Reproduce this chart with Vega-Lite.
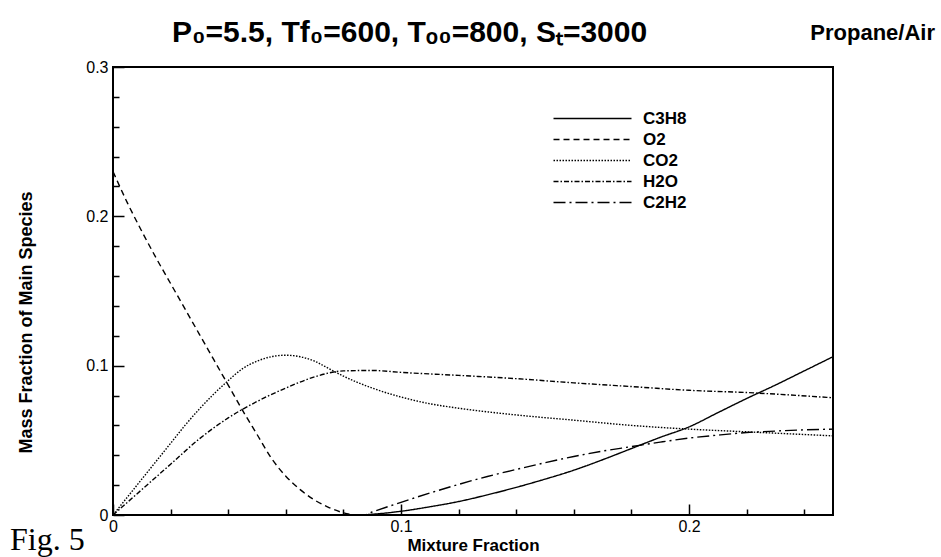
{
  "$schema": "https://vega.github.io/schema/vega-lite/v6.json",
  "width": 720,
  "height": 448,
  "autosize": {"type": "none"},
  "padding": {"top": 67, "left": 113, "right": 108, "bottom": 42},
  "background": "white",
  "config": {
    "view": {"stroke": "black", "strokeWidth": 2},
    "axis": {
      "domain": false,
      "grid": false,
      "labelFont": "Liberation Sans",
      "labelFontSize": 16,
      "labelColor": "black",
      "tickColor": "black",
      "tickWidth": 1.5,
      "titleFont": "Liberation Sans",
      "titleFontWeight": "bold",
      "titleColor": "black",
      "labelFlush": false,
      "labelOverlap": false
    }
  },
  "resolve": {"scale": {"x": "shared", "y": "shared"}, "axis": {"x": "shared", "y": "shared"}},
  "datasets": {
    "curves": [
      {"species": "O2", "x": 0, "y": 0.23},
      {"species": "O2", "x": 0.005, "y": 0.209},
      {"species": "O2", "x": 0.01, "y": 0.19},
      {"species": "O2", "x": 0.015, "y": 0.172},
      {"species": "O2", "x": 0.02, "y": 0.155},
      {"species": "O2", "x": 0.025, "y": 0.138},
      {"species": "O2", "x": 0.03, "y": 0.121},
      {"species": "O2", "x": 0.035, "y": 0.104},
      {"species": "O2", "x": 0.04, "y": 0.087},
      {"species": "O2", "x": 0.045, "y": 0.07},
      {"species": "O2", "x": 0.05, "y": 0.054},
      {"species": "O2", "x": 0.055, "y": 0.038},
      {"species": "O2", "x": 0.06, "y": 0.026},
      {"species": "O2", "x": 0.065, "y": 0.017},
      {"species": "O2", "x": 0.07, "y": 0.01},
      {"species": "O2", "x": 0.075, "y": 0.005},
      {"species": "O2", "x": 0.08, "y": 0.0015},
      {"species": "O2", "x": 0.085, "y": 0},
      {"species": "O2", "x": 0.1, "y": 0},
      {"species": "O2", "x": 0.25, "y": 0},
      {"species": "CO2", "x": 0, "y": 0},
      {"species": "CO2", "x": 0.005, "y": 0.012},
      {"species": "CO2", "x": 0.01, "y": 0.024},
      {"species": "CO2", "x": 0.015, "y": 0.036},
      {"species": "CO2", "x": 0.02, "y": 0.048},
      {"species": "CO2", "x": 0.025, "y": 0.06},
      {"species": "CO2", "x": 0.03, "y": 0.071},
      {"species": "CO2", "x": 0.035, "y": 0.081},
      {"species": "CO2", "x": 0.04, "y": 0.09},
      {"species": "CO2", "x": 0.045, "y": 0.098},
      {"species": "CO2", "x": 0.05, "y": 0.103},
      {"species": "CO2", "x": 0.055, "y": 0.106},
      {"species": "CO2", "x": 0.06, "y": 0.107},
      {"species": "CO2", "x": 0.065, "y": 0.106},
      {"species": "CO2", "x": 0.07, "y": 0.103},
      {"species": "CO2", "x": 0.075, "y": 0.098},
      {"species": "CO2", "x": 0.08, "y": 0.093},
      {"species": "CO2", "x": 0.09, "y": 0.085},
      {"species": "CO2", "x": 0.1, "y": 0.079},
      {"species": "CO2", "x": 0.11, "y": 0.0745},
      {"species": "CO2", "x": 0.12, "y": 0.0715},
      {"species": "CO2", "x": 0.14, "y": 0.067},
      {"species": "CO2", "x": 0.16, "y": 0.0635},
      {"species": "CO2", "x": 0.18, "y": 0.06},
      {"species": "CO2", "x": 0.2, "y": 0.0575},
      {"species": "CO2", "x": 0.22, "y": 0.0557},
      {"species": "CO2", "x": 0.25, "y": 0.053},
      {"species": "H2O", "x": 0, "y": 0},
      {"species": "H2O", "x": 0.01, "y": 0.017},
      {"species": "H2O", "x": 0.02, "y": 0.034},
      {"species": "H2O", "x": 0.03, "y": 0.051},
      {"species": "H2O", "x": 0.04, "y": 0.065},
      {"species": "H2O", "x": 0.05, "y": 0.076},
      {"species": "H2O", "x": 0.06, "y": 0.085},
      {"species": "H2O", "x": 0.07, "y": 0.0925},
      {"species": "H2O", "x": 0.08, "y": 0.0965},
      {"species": "H2O", "x": 0.09, "y": 0.0968},
      {"species": "H2O", "x": 0.1, "y": 0.0955},
      {"species": "H2O", "x": 0.12, "y": 0.0935},
      {"species": "H2O", "x": 0.14, "y": 0.0913},
      {"species": "H2O", "x": 0.16, "y": 0.0885},
      {"species": "H2O", "x": 0.18, "y": 0.086},
      {"species": "H2O", "x": 0.2, "y": 0.0835},
      {"species": "H2O", "x": 0.22, "y": 0.082},
      {"species": "H2O", "x": 0.25, "y": 0.0785},
      {"species": "C3H8", "x": 0, "y": 0},
      {"species": "C3H8", "x": 0.085, "y": 0},
      {"species": "C3H8", "x": 0.09, "y": 0.0005},
      {"species": "C3H8", "x": 0.1, "y": 0.0025},
      {"species": "C3H8", "x": 0.11, "y": 0.0055},
      {"species": "C3H8", "x": 0.12, "y": 0.009},
      {"species": "C3H8", "x": 0.13, "y": 0.0135},
      {"species": "C3H8", "x": 0.14, "y": 0.0185},
      {"species": "C3H8", "x": 0.15, "y": 0.024},
      {"species": "C3H8", "x": 0.16, "y": 0.03},
      {"species": "C3H8", "x": 0.17, "y": 0.037},
      {"species": "C3H8", "x": 0.18, "y": 0.0445},
      {"species": "C3H8", "x": 0.19, "y": 0.052},
      {"species": "C3H8", "x": 0.2, "y": 0.059},
      {"species": "C3H8", "x": 0.21, "y": 0.0685},
      {"species": "C3H8", "x": 0.22, "y": 0.078},
      {"species": "C3H8", "x": 0.23, "y": 0.087},
      {"species": "C3H8", "x": 0.24, "y": 0.0965},
      {"species": "C3H8", "x": 0.25, "y": 0.106},
      {"species": "C2H2", "x": 0, "y": 0},
      {"species": "C2H2", "x": 0.087, "y": 0},
      {"species": "C2H2", "x": 0.09, "y": 0.002},
      {"species": "C2H2", "x": 0.1, "y": 0.0085},
      {"species": "C2H2", "x": 0.11, "y": 0.0147},
      {"species": "C2H2", "x": 0.12, "y": 0.0205},
      {"species": "C2H2", "x": 0.13, "y": 0.0258},
      {"species": "C2H2", "x": 0.14, "y": 0.0305},
      {"species": "C2H2", "x": 0.15, "y": 0.035},
      {"species": "C2H2", "x": 0.16, "y": 0.0392},
      {"species": "C2H2", "x": 0.17, "y": 0.0428},
      {"species": "C2H2", "x": 0.18, "y": 0.0458},
      {"species": "C2H2", "x": 0.19, "y": 0.0488},
      {"species": "C2H2", "x": 0.2, "y": 0.0515},
      {"species": "C2H2", "x": 0.21, "y": 0.0535},
      {"species": "C2H2", "x": 0.22, "y": 0.0552},
      {"species": "C2H2", "x": 0.23, "y": 0.0562},
      {"species": "C2H2", "x": 0.24, "y": 0.057},
      {"species": "C2H2", "x": 0.25, "y": 0.0575}
    ]
  },
  "layer": [
    {
      "data": {"name": "curves"},
      "mark": {"type": "line", "color": "black", "strokeWidth": 1.4, "interpolate": "monotone", "clip": true},
      "encoding": {
        "x": {
          "field": "x",
          "type": "quantitative",
          "scale": {"domain": [0, 0.25], "nice": false, "zero": false},
          "axis": {
            "title": "Mixture Fraction",
            "titleFontSize": 17,
            "titleBaseline": "alphabetic",
            "titleY": 35,
            "values": [0, 0.02, 0.04, 0.06, 0.08, 0.1, 0.12, 0.14, 0.16, 0.18, 0.2, 0.22, 0.24],
            "labelExpr": "abs(datum.value*10-round(datum.value*10))<0.001 ? format(datum.value,'~g') : ''",
            "tickSize": {"condition": {"test": "abs(datum.value*10-round(datum.value*10))<0.001", "value": -11}, "value": -6},
            "labelPadding": 14,
            "labelFontSize": 16,
            "labelOverlap": false,
            "labelFlush": false,
            "labelBound": false
          }
        },
        "y": {
          "field": "y",
          "type": "quantitative",
          "scale": {"domain": [0, 0.3], "nice": false},
          "axis": {
            "title": "Mass Fraction of Main Species",
            "titleFontSize": 18,
            "titleBaseline": "alphabetic",
            "titleX": -82,
            "titleY": 255,
            "values": [0, 0.02, 0.04, 0.06, 0.08, 0.1, 0.12, 0.14, 0.16, 0.18, 0.2, 0.22, 0.24, 0.26, 0.28, 0.3],
            "labelExpr": "abs(datum.value*10-round(datum.value*10))<0.001 ? format(datum.value,'~g') : ''",
            "tickSize": {"condition": {"test": "abs(datum.value*10-round(datum.value*10))<0.001", "value": -11}, "value": -6},
            "labelPadding": 16,
            "labelFontSize": 16,
            "labelOverlap": false,
            "labelFlush": false,
            "labelBound": false
          }
        },
        "strokeDash": {
          "field": "species",
          "type": "nominal",
          "scale": {
            "domain": ["C3H8", "O2", "CO2", "H2O", "C2H2"],
            "range": [[1, 0], [6, 4], [1.5, 1.5], [5, 2, 1.5, 2], [12, 4, 2, 4]]
          },
          "legend": {
            "title": null,
            "orient": "none",
            "legendX": 471,
            "legendY": 43,
            "symbolType": "M-6,0H6",
            "symbolSize": 169,
            "symbolStrokeColor": "black",
            "symbolFillColor": "transparent",
            "symbolStrokeWidth": 1.4,
            "labelFont": "Liberation Sans",
            "labelFontSize": 17,
            "labelFontWeight": "bold",
            "labelColor": "black",
            "labelOffset": 42,
            "rowPadding": 3
          }
        }
      }
    },
    {
      "data": {"values": [{"label": "P₀=5.5, Tf₀=600, Tₒ₀=800, Sₜ=3000"}]},
      "mark": {"type": "text", "align": "left", "baseline": "alphabetic", "dx": 59, "dy": -25, "font": "Liberation Sans", "fontSize": 30, "fontWeight": "bold", "color": "black"},
      "encoding": {
        "x": {
          "datum": 0,
          "type": "quantitative",
          "axis": {
            "title": "Mixture Fraction",
            "titleFontSize": 17,
            "titleBaseline": "alphabetic",
            "titleY": 35,
            "values": [0, 0.02, 0.04, 0.06, 0.08, 0.1, 0.12, 0.14, 0.16, 0.18, 0.2, 0.22, 0.24],
            "labelExpr": "abs(datum.value*10-round(datum.value*10))<0.001 ? format(datum.value,'~g') : ''",
            "tickSize": {"condition": {"test": "abs(datum.value*10-round(datum.value*10))<0.001", "value": -11}, "value": -6},
            "labelPadding": 14,
            "labelFontSize": 16,
            "labelOverlap": false,
            "labelFlush": false,
            "labelBound": false
          }
        },
        "y": {
          "datum": 0.3,
          "type": "quantitative",
          "axis": {
            "title": "Mass Fraction of Main Species",
            "titleFontSize": 18,
            "titleBaseline": "alphabetic",
            "titleX": -82,
            "titleY": 255,
            "values": [0, 0.02, 0.04, 0.06, 0.08, 0.1, 0.12, 0.14, 0.16, 0.18, 0.2, 0.22, 0.24, 0.26, 0.28, 0.3],
            "labelExpr": "abs(datum.value*10-round(datum.value*10))<0.001 ? format(datum.value,'~g') : ''",
            "tickSize": {"condition": {"test": "abs(datum.value*10-round(datum.value*10))<0.001", "value": -11}, "value": -6},
            "labelPadding": 16,
            "labelFontSize": 16,
            "labelOverlap": false,
            "labelFlush": false,
            "labelBound": false
          }
        },
        "text": {"field": "label"}
      }
    },
    {
      "data": {"values": [{"label": "Propane/Air"}]},
      "mark": {"type": "text", "align": "right", "baseline": "alphabetic", "dx": 102, "dy": -27, "font": "Liberation Sans", "fontSize": 22, "fontWeight": "bold", "color": "black"},
      "encoding": {
        "x": {
          "datum": 0.25,
          "type": "quantitative",
          "axis": {
            "title": "Mixture Fraction",
            "titleFontSize": 17,
            "titleBaseline": "alphabetic",
            "titleY": 35,
            "values": [0, 0.02, 0.04, 0.06, 0.08, 0.1, 0.12, 0.14, 0.16, 0.18, 0.2, 0.22, 0.24],
            "labelExpr": "abs(datum.value*10-round(datum.value*10))<0.001 ? format(datum.value,'~g') : ''",
            "tickSize": {"condition": {"test": "abs(datum.value*10-round(datum.value*10))<0.001", "value": -11}, "value": -6},
            "labelPadding": 14,
            "labelFontSize": 16,
            "labelOverlap": false,
            "labelFlush": false,
            "labelBound": false
          }
        },
        "y": {
          "datum": 0.3,
          "type": "quantitative",
          "axis": {
            "title": "Mass Fraction of Main Species",
            "titleFontSize": 18,
            "titleBaseline": "alphabetic",
            "titleX": -82,
            "titleY": 255,
            "values": [0, 0.02, 0.04, 0.06, 0.08, 0.1, 0.12, 0.14, 0.16, 0.18, 0.2, 0.22, 0.24, 0.26, 0.28, 0.3],
            "labelExpr": "abs(datum.value*10-round(datum.value*10))<0.001 ? format(datum.value,'~g') : ''",
            "tickSize": {"condition": {"test": "abs(datum.value*10-round(datum.value*10))<0.001", "value": -11}, "value": -6},
            "labelPadding": 16,
            "labelFontSize": 16,
            "labelOverlap": false,
            "labelFlush": false,
            "labelBound": false
          }
        },
        "text": {"field": "label"}
      }
    },
    {
      "data": {"values": [{"label": "Fig. 5"}]},
      "mark": {"type": "text", "align": "left", "baseline": "alphabetic", "dx": -103, "dy": 35, "font": "Liberation Serif", "fontSize": 32, "color": "black"},
      "encoding": {
        "x": {
          "datum": 0,
          "type": "quantitative",
          "axis": {
            "title": "Mixture Fraction",
            "titleFontSize": 17,
            "titleBaseline": "alphabetic",
            "titleY": 35,
            "values": [0, 0.02, 0.04, 0.06, 0.08, 0.1, 0.12, 0.14, 0.16, 0.18, 0.2, 0.22, 0.24],
            "labelExpr": "abs(datum.value*10-round(datum.value*10))<0.001 ? format(datum.value,'~g') : ''",
            "tickSize": {"condition": {"test": "abs(datum.value*10-round(datum.value*10))<0.001", "value": -11}, "value": -6},
            "labelPadding": 14,
            "labelFontSize": 16,
            "labelOverlap": false,
            "labelFlush": false,
            "labelBound": false
          }
        },
        "y": {
          "datum": 0,
          "type": "quantitative",
          "axis": {
            "title": "Mass Fraction of Main Species",
            "titleFontSize": 18,
            "titleBaseline": "alphabetic",
            "titleX": -82,
            "titleY": 255,
            "values": [0, 0.02, 0.04, 0.06, 0.08, 0.1, 0.12, 0.14, 0.16, 0.18, 0.2, 0.22, 0.24, 0.26, 0.28, 0.3],
            "labelExpr": "abs(datum.value*10-round(datum.value*10))<0.001 ? format(datum.value,'~g') : ''",
            "tickSize": {"condition": {"test": "abs(datum.value*10-round(datum.value*10))<0.001", "value": -11}, "value": -6},
            "labelPadding": 16,
            "labelFontSize": 16,
            "labelOverlap": false,
            "labelFlush": false,
            "labelBound": false
          }
        },
        "text": {"field": "label"}
      }
    }
  ]
}
